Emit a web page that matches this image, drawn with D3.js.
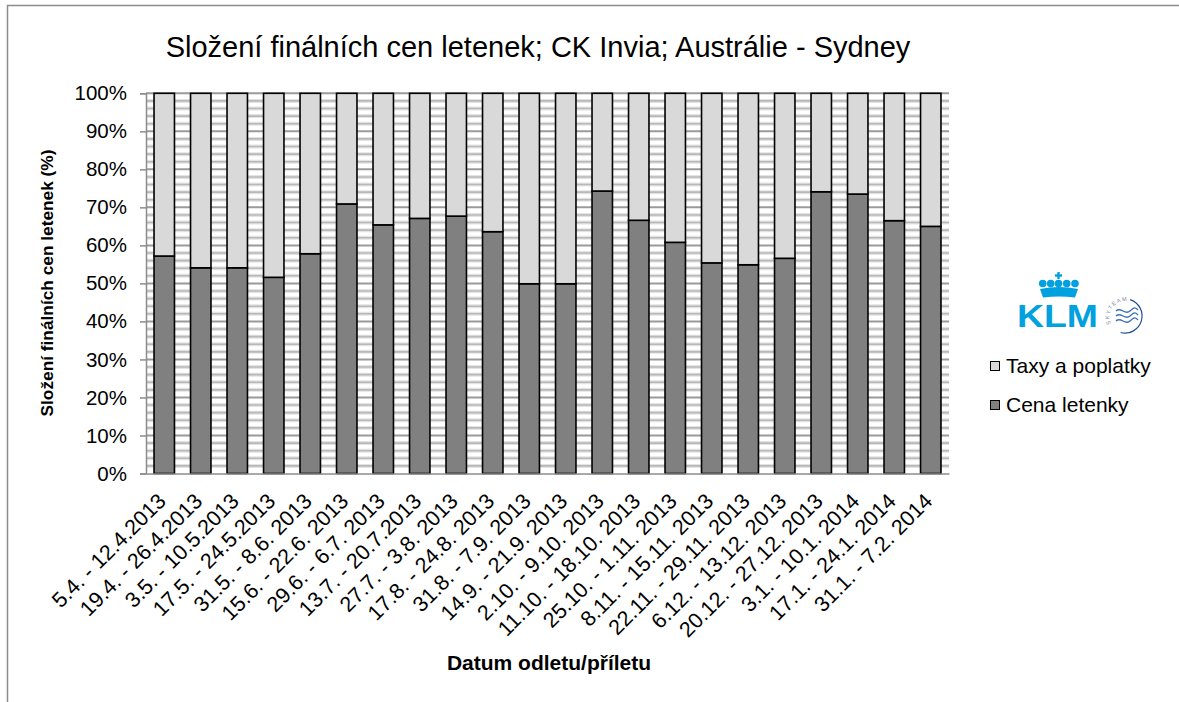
<!DOCTYPE html>
<html><head><meta charset="utf-8">
<script src="https://cdn.jsdelivr.net/npm/d3@7"></script>
<style>html,body{margin:0;padding:0;background:#fff;overflow:hidden;} svg{display:block;font-family:"Liberation Sans",Arial,sans-serif;}</style>
</head><body>
<svg id="chart" width="1179" height="702"></svg>
<script>
const categories = ["5.4. - 12.4.2013","19.4. - 26.4.2013","3.5. - 10.5.2013","17.5. - 24.5.2013","31.5. - 8.6. 2013","15.6. - 22.6. 2013","29.6. - 6.7. 2013","13.7. - 20.7.2013","27.7. - 3.8. 2013","17.8. - 24.8. 2013","31.8. - 7.9. 2013","14.9. - 21.9. 2013","2.10. - 9.10. 2013","11.10. - 18.10. 2013","25.10. - 1.11. 2013","8.11. - 15.11. 2013","22.11. - 29.11. 2013","6.12. - 13.12. 2013","20.12. - 27.12. 2013","3.1. - 10.1. 2014","17.1. - 24.1. 2014","31.1. - 7.2. 2014"];
const cenaLetenky = [57.2,54.1,54.1,51.6,57.8,70.9,65.4,67.1,67.7,63.6,49.9,49.9,74.3,66.6,60.8,55.4,54.9,56.6,74.1,73.5,66.5,65.0];
const taxyPoplatky = [42.8,45.9,45.9,48.4,42.2,29.1,34.6,32.9,32.3,36.4,50.1,50.1,25.7,33.4,39.2,44.6,45.1,43.4,25.9,26.5,33.5,35.0];
const seriesNames = ["Cena letenky","Taxy a poplatky"];
const seriesColors = ["#808080","#d9d9d9"];
const yTicks = [0,0.1,0.2,0.3,0.4,0.5,0.6,0.7,0.8,0.9,1.0];
const titleText = "Složení finálních cen letenek; CK Invia; Austrálie - Sydney";
const yTitle = "Složení finálních cen letenek (%)";
const xTitle = "Datum odletu/příletu";

const svg = d3.select("#chart");
// outer frame (right and bottom edges lie outside the picture)
svg.append("path").attr("d","M7.5,702 V5.5 H1179")
  .attr("fill","none").attr("stroke","#8c8c8c").attr("stroke-width",1.5);

const plot = {left:146, right:949, top:93.3, bottom:473.5};
const x = d3.scaleBand().domain(categories).range([plot.left, plot.right]).paddingInner(0.44).paddingOuter(0.22);
const y = d3.scaleLinear().domain([0,1]).range([plot.bottom, plot.top]);

const table = categories.map((c,i)=>({cat:c, "Cena letenky":cenaLetenky[i], "Taxy a poplatky":taxyPoplatky[i]}));
const stack = d3.stack().keys(seriesNames).offset(d3.stackOffsetExpand);
const layers = stack(table);

// gridlines
const minor = d3.range(0,51).map(i=>i/50).filter(v=>Math.round(v*50)%5!==0);
const g = svg.append("g");
g.selectAll("line.minorhalo").data(minor).join("line")
  .attr("x1",plot.left).attr("x2",plot.right).attr("y1",d=>y(d)).attr("y2",d=>y(d))
  .attr("stroke","#e3e3e3").attr("stroke-width",4);
g.selectAll("line.minor").data(minor).join("line")
  .attr("x1",plot.left).attr("x2",plot.right).attr("y1",d=>y(d)).attr("y2",d=>y(d))
  .attr("stroke","#b8b8b8").attr("stroke-width",1.6);
g.selectAll("line.major").data(yTicks.slice(1)).join("line")
  .attr("x1",plot.left).attr("x2",plot.right).attr("y1",d=>y(d)).attr("y2",d=>y(d))
  .attr("stroke","#9a9a9a").attr("stroke-width",2);

// bars
svg.append("g").selectAll("g").data(layers).join("g")
  .attr("fill",(d,i)=>seriesColors[i])
  .selectAll("rect").data(d=>d).join("rect")
  .attr("x",d=>x(d.data.cat)).attr("width",x.bandwidth())
  .attr("y",d=>y(d[1])).attr("height",d=>y(d[0])-y(d[1]))
  .attr("stroke","#000").attr("stroke-width",1.6);

// y axis
const yAxis = d3.axisLeft(y).tickValues(yTicks).tickFormat(d3.format(".0%")).tickSize(6).tickPadding(13);
const ya = svg.append("g").attr("transform",`translate(${plot.left},0)`).call(yAxis);
ya.select(".domain").attr("stroke","#8c8c8c").attr("stroke-width",1.5);
ya.selectAll(".tick line").attr("stroke","#8c8c8c").attr("stroke-width",1.5);
ya.selectAll(".tick text").attr("font-size",20.5).attr("fill","#000").attr("font-family","Liberation Sans, Arial, sans-serif");

// x axis
const xAxis = d3.axisBottom(x).tickSize(0).tickPadding(0);
const xa = svg.append("g").attr("transform",`translate(0,${plot.bottom})`).call(xAxis);
xa.select(".domain").attr("stroke","#8c8c8c").attr("stroke-width",1.5);
xa.selectAll(".tick text")
  .attr("font-size",21.5).attr("fill","#000").attr("font-family","Liberation Sans, Arial, sans-serif")
  .attr("text-anchor","end").attr("dy","0.72em")
  .attr("transform","translate(-8,18) rotate(-45)");

// titles
svg.append("text").attr("x",538).attr("y",57).attr("text-anchor","middle")
  .attr("font-size",29).attr("fill","#000").text(titleText);
svg.append("text").attr("transform","translate(53,283) rotate(-90)").attr("text-anchor","middle")
  .attr("font-size",17.3).attr("font-weight","bold").attr("fill","#000").text(yTitle);
svg.append("text").attr("x",549).attr("y",670).attr("text-anchor","middle")
  .attr("font-size",21).attr("font-weight","bold").attr("fill","#000").text(xTitle);

// KLM logo
const logo = svg.append("g");
const klmBlue = "#00a1de";
logo.append("text").attr("x",1017).attr("y",327).attr("font-size",32).attr("font-weight","bold")
  .attr("fill",klmBlue).attr("textLength",81).attr("lengthAdjust","spacingAndGlyphs").text("KLM");
[1042.7,1050.7,1058.5,1066.7,1075].forEach(cx=>{
  logo.append("circle").attr("cx",cx).attr("cy",283.5).attr("r",3.8).attr("fill",klmBlue);
});
logo.append("rect").attr("x",1057.3).attr("y",272).attr("width",2.4).attr("height",7).attr("fill",klmBlue);
logo.append("rect").attr("x",1055).attr("y",274.3).attr("width",7).attr("height",2.4).attr("fill",klmBlue);
logo.append("path").attr("d","M1040,289 Q1059,285 1078,289 L1075,297.5 Q1059,295.5 1043,297.5 Z").attr("fill",klmBlue);
// SkyTeam emblem
const st = logo.append("g").attr("transform","translate(1125,316)");
st.append("path").attr("d",d3.arc()({innerRadius:16.5,outerRadius:17.7,startAngle:0.3,endAngle:3.4})).attr("fill","#1f4e9c");
st.append("defs").append("path").attr("id","starc").attr("d","M-14,8 A16,16 0 0 1 11,-11");
st.append("text").attr("font-size",5.5).attr("fill","#7a8aa0").attr("letter-spacing",1.2)
  .append("textPath").attr("href","#starc").text("SKYTEAM");
[-5,0,5].forEach((dy,i)=>{
  st.append("path").attr("d",`M-9,${dy} C-4,${dy-5} 0,${dy+5} 5,${dy} S 11,${dy-3} 13,${dy-1}`)
    .attr("fill","none").attr("stroke","#3d6fb6").attr("stroke-width",1.3);
});

// legend
const legendItems = [{name:"Taxy a poplatky", color:seriesColors[1], y:366},{name:"Cena letenky", color:seriesColors[0], y:405}];
const lg = svg.append("g");
lg.selectAll("rect").data(legendItems).join("rect")
  .attr("x",990.5).attr("y",d=>d.y-4.5).attr("width",9).attr("height",9)
  .attr("fill",d=>d.color).attr("stroke","#000").attr("stroke-width",1);
lg.selectAll("text").data(legendItems).join("text")
  .attr("x",1006).attr("y",d=>d.y+7).attr("font-size",21).attr("fill","#000").text(d=>d.name);
</script>
</body></html>
